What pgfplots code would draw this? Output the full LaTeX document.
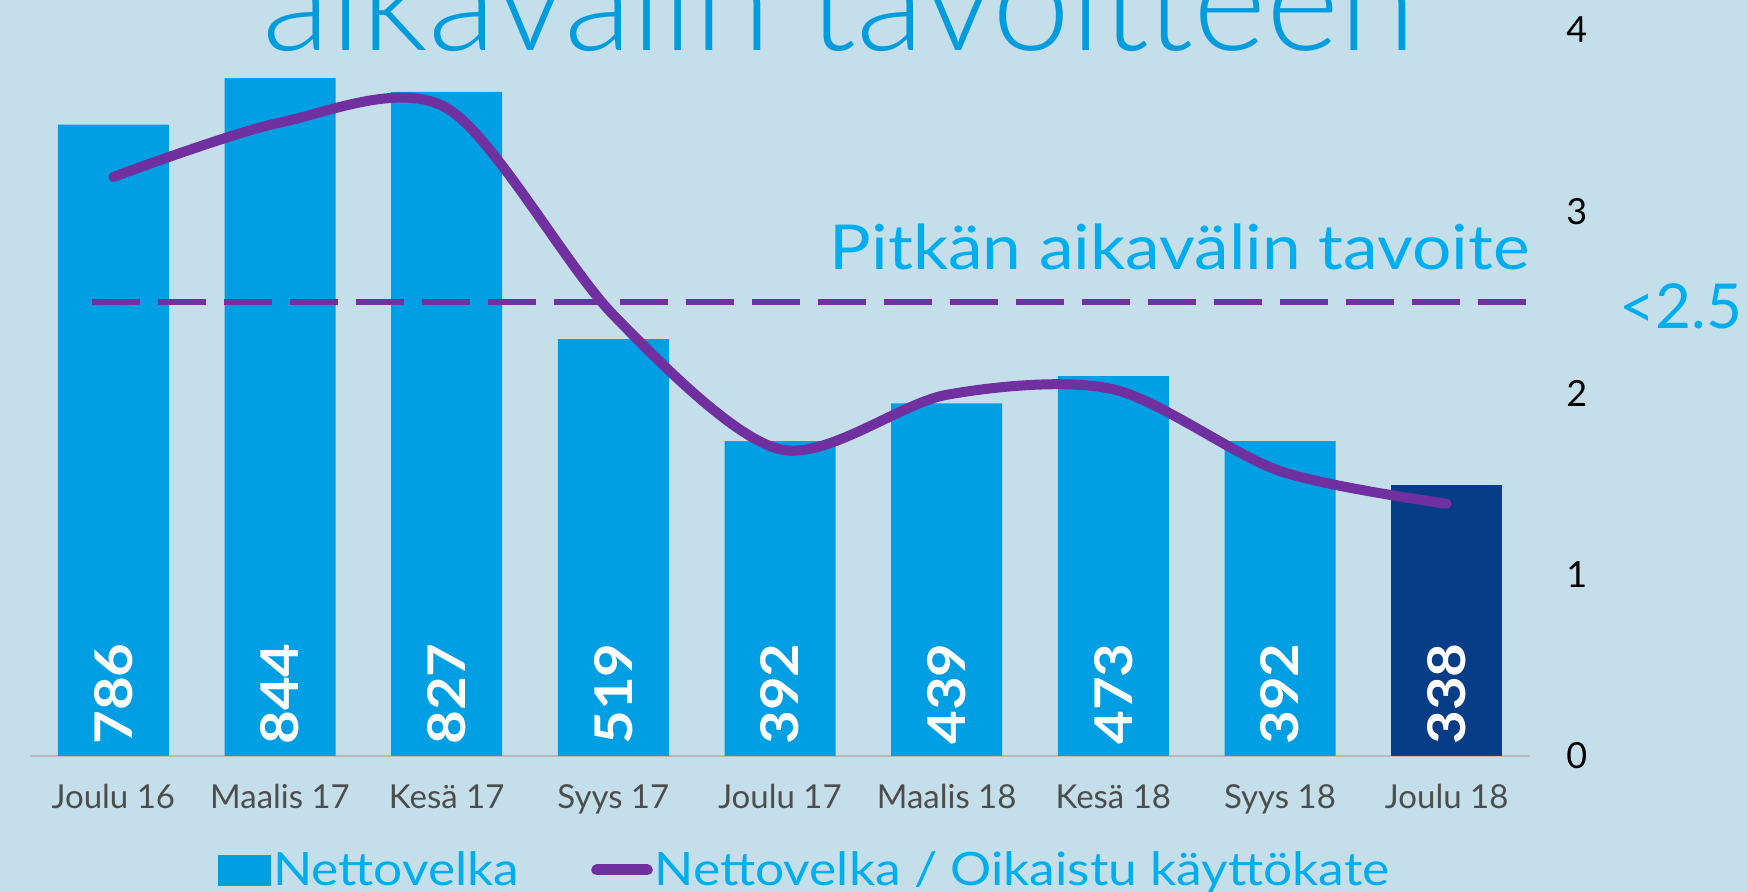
\documentclass[border=0pt]{standalone}
\usepackage{fontspec}
\setmainfont{Lato}
\newfontfamily\widefont{Lato}[FakeStretch=1.12]
\newfontfamily\lightfont{Lato Light}
\usepackage{pgfplots}
\pgfplotsset{compat=1.18}

\definecolor{bgcol}{HTML}{C5DFEA}
\definecolor{barblue}{HTML}{009FE3}
\definecolor{darkbar}{HTML}{073C86}
\definecolor{lineviolet}{HTML}{7030A0}
\definecolor{txtblue}{HTML}{00AEEF}
\definecolor{titleblue}{HTML}{009CDE}
\definecolor{tickgray}{HTML}{4D4D4D}

\begin{document}
\begin{tikzpicture}
  \useasboundingbox (0,0) rectangle (873.5pt,446pt);
  \clip (0,0) rectangle (873.5pt,446pt);
  \fill[bgcol] (0,0) rectangle (873.5pt,446pt);

  % title, cut off at the top edge
  \node[anchor=base, text=titleblue, inner sep=0pt,
        font=\lightfont\fontsize{70}{70}\selectfont] at (419.75pt,420.5pt) {aikavälin tavoitteen};

  % bars: Nettovelka (left scale, hidden)
  \begin{axis}[at={(15pt,68pt)}, anchor=south west,
    scale only axis, width=750pt, height=363pt,
    xmin=-0.5, xmax=8.5, ymin=0, ymax=904,
    axis y line=none, axis x line*=bottom,
    x axis line style={-, draw=gray!55, line width=1pt},
    xtick={0,...,8},
    xticklabels={Joulu 16, Maalis 17, Kesä 17, Syys 17, Joulu 17,
                 Maalis 18, Kesä 18, Syys 18, Joulu 18},
    major tick length=0pt,
    xticklabel style={anchor=base, yshift=-26.5pt, inner sep=0pt,
                      text=tickgray, font=\fontsize{16.5}{16.5}\selectfont},
    clip=false]
    \addplot[ybar, bar width=55.5pt, bar shift=0pt, fill=barblue, draw=none]
      coordinates {(0,786) (1,844) (2,827) (3,519) (4,392) (5,439) (6,473) (7,392)};
    \addplot[ybar, bar width=55.5pt, bar shift=0pt, fill=darkbar, draw=none]
      coordinates {(8,338)};
    % value labels inside the bars
    \addplot[draw=none, mark=none, nodes near coords, point meta=explicit symbolic,
      every node near coord/.style={yshift=5.5pt, rotate=90, anchor=west,
        inner sep=0pt, text=white, font=\widefont\fontsize{26}{26}\selectfont\bfseries}]
      coordinates {(0,0)[786] (1,0)[844] (2,0)[827] (3,0)[519] (4,0)[392]
                   (5,0)[439] (6,0)[473] (7,0)[392] (8,0)[338]};
  \end{axis}

  % line: Nettovelka / Oikaistu käyttökate (right scale)
  \begin{axis}[at={(15pt,68pt)}, anchor=south west,
    scale only axis, width=750pt, height=363pt,
    xmin=-0.5, xmax=8.5, ymin=0, ymax=4,
    axis x line=none, axis y line*=right,
    y axis line style={draw=none},
    ytick={0,1,2,3,4}, major tick length=0pt,
    /pgf/number format/assume math mode=true,
    yticklabel style={anchor=west, xshift=18pt, inner sep=0pt,
                      text=black, font=\fontsize{18}{18}\selectfont},
    clip=false,
    legend style={at={(0.1253,-0.157)}, anchor=west, draw=none, fill=none,
      inner sep=0pt, legend columns=2,
      font=\widefont\fontsize{23}{23}\selectfont, text=txtblue,
      nodes={inner sep=1pt},
      /tikz/every even column/.append style={column sep=35pt}}]
    \addplot[lineviolet, line width=3pt, dash pattern=on 24pt off 9pt, forget plot]
      coordinates {(-0.13,2.5) (8.5,2.5)};
    \addlegendimage{legend image code/.code={
      \fill[barblue] (0pt,-7.5pt) rectangle (26pt,7.5pt);}}
    \addlegendentry{Nettovelka}
    \addplot[lineviolet, line width=5pt, line cap=round, smooth, mark=none,
      legend image code/.code={
        \draw[lineviolet, line width=5.5pt, line cap=round] (2.75pt,0pt) -- (28pt,0pt);}]
      coordinates {(0,3.19) (1,3.49) (2,3.57) (3,2.43) (4,1.69)
                   (5,1.99) (6,2.02) (7,1.57) (8,1.39)};
    \addlegendentry{Nettovelka / Oikaistu käyttökate}
    \node[anchor=base east, inner sep=0pt, text=txtblue,
          font=\widefont\fontsize{31}{31}\selectfont] at (axis cs:8.5,2.678) {Pitkän aikavälin tavoite};
    \node[anchor=base west, inner sep=0pt, text=txtblue,
          font=\fontsize{31}{31}\selectfont] at (axis cs:9.037,2.358) {<2.5};
  \end{axis}
\end{tikzpicture}
\end{document}
